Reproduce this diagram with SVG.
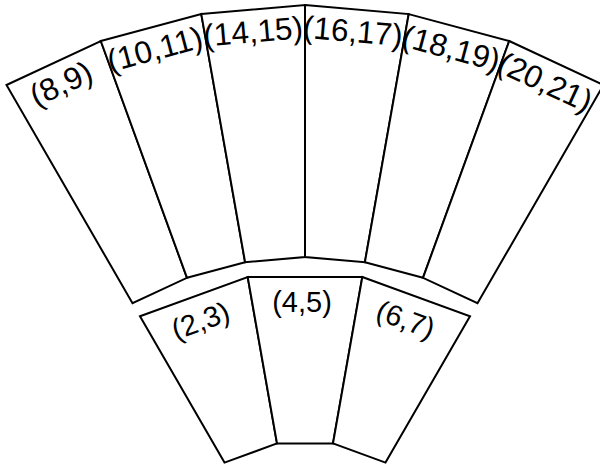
<svg xmlns="http://www.w3.org/2000/svg" width="600" height="467" viewBox="0 0 600 467">
<style>
.seg{fill:#fff;stroke:#000;stroke-width:2;stroke-linejoin:miter}
.lbl{font-family:"Liberation Sans",Arial,Helvetica,sans-serif;font-size:29px;fill:#000;text-anchor:middle}
.big{font-size:31.5px}
</style>
<rect width="600" height="467" fill="#fff"/>
<g id="connectors"></g>
<g id="n8_9"><polygon class="seg" points="6.5,85 100.8,41 187,277.8 132.5,303.2"/><text class="lbl big" transform="rotate(-25 305 602)" x="303" y="40">(8,9)</text></g>
<g id="n10_11"><polygon class="seg" points="100.8,41 201.3,14.1 245.1,262.2 187,277.8"/><text class="lbl big" transform="rotate(-15 305 602)" x="303" y="40">(10,11)</text></g>
<g id="n14_15"><polygon class="seg" points="201.3,14.1 305,5 305,257 245.1,262.2"/><text class="lbl big" transform="rotate(-5 305 602)" x="303" y="40">(14,15)</text></g>
<g id="n16_17"><polygon class="seg" points="305,5 408.7,14.1 364.9,262.2 305,257"/><text class="lbl big" transform="rotate(5 305 602)" x="303" y="40">(16,17)</text></g>
<g id="n18_19"><polygon class="seg" points="408.7,14.1 509.2,41 423,277.8 364.9,262.2"/><text class="lbl big" transform="rotate(15 305 602)" x="303" y="40">(18,19)</text></g>
<g id="n20_21"><polygon class="seg" points="509.2,41 603.5,85 477.5,303.2 423,277.8"/><text class="lbl big" transform="rotate(25 305 602)" x="303" y="40">(20,21)</text></g>
<g id="n2_3"><polygon class="seg" points="140,316.2 247.7,277 277,443.4 224.5,462.6"/><text class="lbl" transform="rotate(-20 305 602)" x="303" y="312">(2,3)</text></g>
<g id="n4_5"><polygon class="seg" points="247.7,277 362.3,277 333,443.4 277,443.4"/><text class="lbl" x="302" y="312">(4,5)</text></g>
<g id="n6_7"><polygon class="seg" points="362.3,277 470,316.2 385.5,462.6 333,443.4"/><text class="lbl" transform="rotate(20 305 602)" x="303" y="312">(6,7)</text></g>
</svg>
